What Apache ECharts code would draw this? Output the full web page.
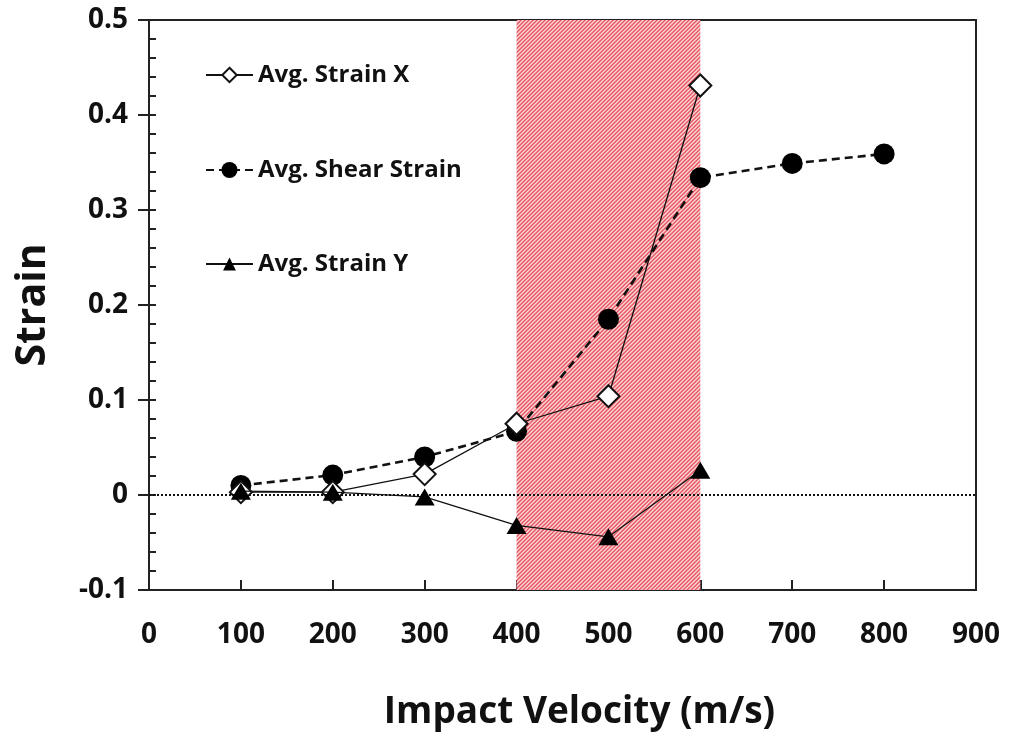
<!DOCTYPE html>
<html>
<head>
<meta charset="utf-8">
<script src="https://cdn.jsdelivr.net/npm/echarts@6/dist/echarts.min.js"></script>
<style>
  html, body { margin: 0; padding: 0; background: #fff; }
  #chart { width: 1026px; height: 744px; }
</style>
</head>
<body>
<div id="chart"></div>
<script>
// Impact velocity (m/s) at which each strain was measured
const velocities = [100, 200, 300, 400, 500, 600, 700, 800];

// Average strain components
const strainX = [0.003, 0.003, 0.022, 0.075, 0.104, 0.431];
const shearStrain = [0.010, 0.021, 0.040, 0.067, 0.185, 0.334, 0.349, 0.359];
const strainY = [0.004, 0.003, -0.002, -0.032, -0.044, 0.026];

// Velocity band shaded with hatching
const bandStart = 400;
const bandEnd = 600;

const seriesNames = ['Avg. Strain X', 'Avg. Shear Strain', 'Avg. Strain Y'];

function pairs(values) {
  return values.map((v, i) => [velocities[i], v]);
}

// Diagonal red hatch tile ("/" stripes)
function hatchTile() {
  const c = document.createElement('canvas');
  c.width = 4; c.height = 4;
  const ctx = c.getContext('2d');
  const img = ctx.createImageData(4, 4);
  const shades = [
    [228, 88, 98],
    [237, 128, 136],
    [250, 214, 217],
    [243, 168, 173]
  ];
  for (let y = 0; y < 4; y++) {
    for (let x = 0; x < 4; x++) {
      const col = shades[(x + y) % 4];
      const idx = (y * 4 + x) * 4;
      img.data[idx] = col[0]; img.data[idx + 1] = col[1]; img.data[idx + 2] = col[2]; img.data[idx + 3] = 255;
    }
  }
  ctx.putImageData(img, 0, 0);
  return c;
}

const FONT = 'Open Sans';
const chart = echarts.init(document.getElementById('chart'), null, { renderer: 'canvas' });

const yCommon = { type: 'value', min: -0.1, max: 0.5, interval: 0.1 };

function legendAt(name, top, iconHeight) {
  return {
    data: [name],
    left: 205,
    top: top,
    padding: 0,
    itemWidth: 47,
    itemHeight: iconHeight,
    itemGap: 0,
    textStyle: { fontFamily: FONT, fontWeight: 'bold', fontSize: 24, color: '#111' },
    selectedMode: false
  };
}

chart.setOption({
  animation: false,
  backgroundColor: '#fff',
  grid: {
    left: 149, top: 20, right: 50, bottom: 154,
    outerBoundsMode: 'none',
    containLabel: false,
    show: true, borderColor: '#222', borderWidth: 2, backgroundColor: 'transparent'
  },
  legend: [
    legendAt(seriesNames[0], 63, 18),
    legendAt(seriesNames[1], 158, 20),
    legendAt(seriesNames[2], 252, 16)
  ],
  xAxis: {
    type: 'value', min: 0, max: 900, interval: 100,
    name: 'Impact Velocity (m/s)',
    nameLocation: 'middle',
    nameGap: 104,
    nameTextStyle: { fontFamily: FONT, fontWeight: 'bold', fontSize: 37, color: '#111', padding: [0, 0, 0, 34] },
    axisLine: { onZero: false, lineStyle: { color: '#222', width: 2 } },
    axisTick: { inside: true, length: 10, lineStyle: { color: '#222', width: 2 } },
    axisLabel: { margin: 31, fontFamily: FONT, fontWeight: 'bold', fontSize: 28, color: '#111' },
    splitLine: { show: false }
  },
  yAxis: [
    Object.assign({}, yCommon, {
      name: 'Strain',
      nameLocation: 'middle',
      nameGap: 95,
      nameTextStyle: { fontFamily: FONT, fontWeight: 'bold', fontSize: 41, color: '#111' },
      axisLine: { show: true, onZero: false, lineStyle: { color: '#222', width: 2 } },
      axisTick: { inside: true, length: 7, lineStyle: { color: '#222', width: 2 } },
      minorTick: { show: true, splitNumber: 5, length: 7, lineStyle: { color: '#222', width: 2 } },
      axisLabel: {
        margin: 21, fontFamily: FONT, fontWeight: 'bold', fontSize: 28, color: '#111',
        formatter: v => (Math.abs(v) < 1e-9 ? '0' : v.toFixed(1))
      },
      splitLine: { show: false }
    }),
    Object.assign({}, yCommon, {
      position: 'left',
      axisLine: { show: false, onZero: false },
      axisTick: { inside: false, length: 11, lineStyle: { color: '#222', width: 2 } },
      axisLabel: { show: false },
      splitLine: { show: false }
    })
  ],
  series: [
    {
      name: seriesNames[0],
      type: 'line',
      data: pairs(strainX),
      symbol: 'diamond',
      symbolSize: 22,
      z: 4,
      lineStyle: { color: '#111', width: 1.3, type: 'solid' },
      itemStyle: { color: '#fff', borderColor: '#111', borderWidth: 2 },
      markArea: {
        silent: true,
        itemStyle: { color: { image: hatchTile(), repeat: 'repeat' } },
        data: [[{ xAxis: bandStart }, { xAxis: bandEnd }]]
      }
    },
    {
      name: seriesNames[1],
      type: 'line',
      data: pairs(shearStrain),
      symbol: 'circle',
      symbolSize: 21,
      z: 3,
      lineStyle: { color: '#111', width: 2.6, type: [8, 5] },
      itemStyle: { color: '#000', borderColor: '#000', borderWidth: 0 },
      markLine: {
        silent: true,
        symbol: 'none',
        label: { show: false },
        lineStyle: { color: '#111', width: 2, type: [2, 2] },
        data: [{ yAxis: 0 }]
      }
    },
    {
      name: seriesNames[2],
      type: 'line',
      data: pairs(strainY),
      symbol: 'triangle',
      symbolSize: [20, 17],
      z: 5,
      lineStyle: { color: '#111', width: 1.3, type: 'solid' },
      itemStyle: { color: '#000', borderColor: '#000', borderWidth: 0 }
    }
  ]
});
</script>
</body>
</html>
